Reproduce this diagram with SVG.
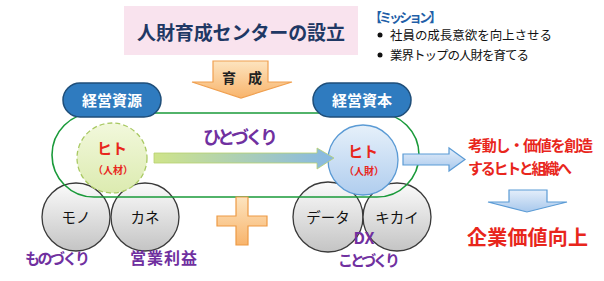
<svg xmlns="http://www.w3.org/2000/svg" width="604" height="281" viewBox="0 0 604 281">
<style>
.jp{font-family:"Noto Sans CJK JP","Noto Sans",sans-serif}
.b{font-weight:bold}
.red{fill:#e8261c}
.pur{fill:#7030a0}
.gray{stroke:#3a3a3a;stroke-width:1.3;fill:url(#gg)}
.ct{font-size:14.5px;fill:#111;text-anchor:middle}
.pill{fill:#2f7bbf;stroke:#1f4e79;stroke-width:1.5}
.pt{font-size:15px;fill:#fff;text-anchor:middle;font-weight:bold}
</style>
<defs>
<linearGradient id="gg" x1="0" y1="0" x2="0" y2="1"><stop offset="0" stop-color="#fbfbfb"/><stop offset="1" stop-color="#c4c4c4"/></linearGradient>
<linearGradient id="og" x1="0" y1="0" x2="0" y2="1"><stop offset="0" stop-color="#fde4bf"/><stop offset="1" stop-color="#f8b46c"/></linearGradient>
<linearGradient id="yg" x1="0" y1="0" x2="0" y2="1"><stop offset="0" stop-color="#f2f8dc"/><stop offset="1" stop-color="#dcebb0"/></linearGradient>
<linearGradient id="bg" x1="0" y1="0" x2="0" y2="1"><stop offset="0" stop-color="#e6f0fa"/><stop offset="1" stop-color="#b0cdee"/></linearGradient>
<linearGradient id="ga" x1="0" y1="0" x2="1" y2="0"><stop offset="0" stop-color="#cfe48a"/><stop offset="1" stop-color="#86b8e4"/></linearGradient>
<linearGradient id="ba" x1="0" y1="0" x2="0" y2="1"><stop offset="0" stop-color="#e4eefa"/><stop offset="1" stop-color="#a8c8ec"/></linearGradient>
</defs>

<g id="title">
<rect x="124" y="6" width="234" height="49" fill="#f9e3ee"/>
<text x="241" y="40" class="jp b" font-size="19" fill="#1f3864" text-anchor="middle" textLength="208">人財育成センターの設立</text>
</g>

<g id="mission">
<text x="369" y="22" class="jp b" font-size="13" fill="#1f5fa8" textLength="73">【ミッション】</text>
<circle cx="380" cy="35" r="2.5" fill="#111"/>
<circle cx="380" cy="55" r="2.5" fill="#111"/>
<text x="390" y="40" class="jp" font-size="12.5" fill="#111" textLength="162">社員の成長意欲を向上させる</text>
<text x="390" y="60" class="jp" font-size="12.5" fill="#111" textLength="139">業界トップの人財を育てる</text>
</g>

<g id="ikusei">
<path d="M213,61 H268 V82 H292 L241,98 L192,82 H213 Z" fill="url(#og)" stroke="#f0a050" stroke-width="1.2"/>
<text x="229" y="83" class="jp b" font-size="14" fill="#222" text-anchor="middle">育</text>
<text x="255" y="83" class="jp b" font-size="14" fill="#222" text-anchor="middle">成</text>
</g>

<g id="mono"><circle cx="76" cy="217" r="34" class="gray"/><text x="76" y="223" class="jp ct">モノ</text></g>
<g id="kane"><circle cx="145" cy="217" r="34" class="gray"/><text x="145" y="223" class="jp ct">カネ</text></g>
<g id="data"><circle cx="328" cy="217" r="35" class="gray"/><text x="328" y="223" class="jp ct">データ</text></g>
<g id="kikai"><circle cx="397" cy="217" r="34" class="gray"/><text x="397" y="223" class="jp ct">キカイ</text></g>

<g id="hito-left">
<circle cx="112" cy="158" r="35" fill="url(#yg)" stroke="#a9c963" stroke-width="1.3" stroke-dasharray="5,3"/>
<text x="112" y="154" class="jp b red" font-size="15" text-anchor="middle">ヒト</text>
<text x="113" y="174" class="jp b red" font-size="10" text-anchor="middle">（人材）</text>
</g>

<g id="hito-right">
<circle cx="363" cy="160" r="35" fill="url(#bg)" stroke="#5b9bd5" stroke-width="1.3"/>
<text x="363" y="157" class="jp b red" font-size="15" text-anchor="middle">ヒト</text>
<text x="364" y="175" class="jp b red" font-size="10" text-anchor="middle">（人財）</text>
</g>

<g id="connectors">
<rect x="52" y="113" width="367" height="84" rx="42" ry="42" fill="none" stroke="#1a9a3a" stroke-width="1.6"/>
<path d="M154,153 H317 V148 L334,158 L317,169 V163 H154 Z" fill="url(#ga)" stroke="#b8d070" stroke-width="0.8"/>
<path d="M403,154 H449 V148 L465,159.5 L449,171 V165 H403 Z" fill="url(#ba)" stroke="#5b9bd5" stroke-width="1.2"/>
<path d="M509,190 H547 V202 H567 L527,212 L488,202 H509 Z" fill="url(#ba)" stroke="#5b9bd5" stroke-width="1.2"/>
</g>

<g id="plus">
<path d="M236,197 H248 V216 H267 V226 H248 V245 H236 V226 H217 V216 H236 Z" fill="url(#og)" stroke="#ed9a45" stroke-width="1.2"/>
</g>

<g id="shigen"><rect x="63" y="83" width="98" height="34" rx="17" class="pill"/><text x="112" y="106" class="jp pt">経営資源</text></g>
<g id="shihon"><rect x="313" y="83" width="98" height="34" rx="17" class="pill"/><text x="362" y="106" class="jp pt">経営資本</text></g>

<g id="labels">
<text x="203" y="144" class="jp b pur" font-size="18" textLength="75">ひとづくり</text>
<text x="25" y="264" class="jp b pur" font-size="15" textLength="65">ものづくり</text>
<text x="130" y="264" class="jp b pur" font-size="16" textLength="67">営業利益</text>
<text x="364" y="244" class="jp b pur" font-size="16" text-anchor="middle">DX</text>
<text x="338" y="266" class="jp b pur" font-size="15" textLength="62">ことづくり</text>
<text x="468" y="151" class="jp b red" font-size="15" textLength="125">考動し・価値を創造</text>
<text x="468" y="174" class="jp b red" font-size="15" textLength="104">するヒトと組織へ</text>
<text x="467" y="245" class="jp b red" font-size="20" textLength="121">企業価値向上</text>
</g>
</svg>
